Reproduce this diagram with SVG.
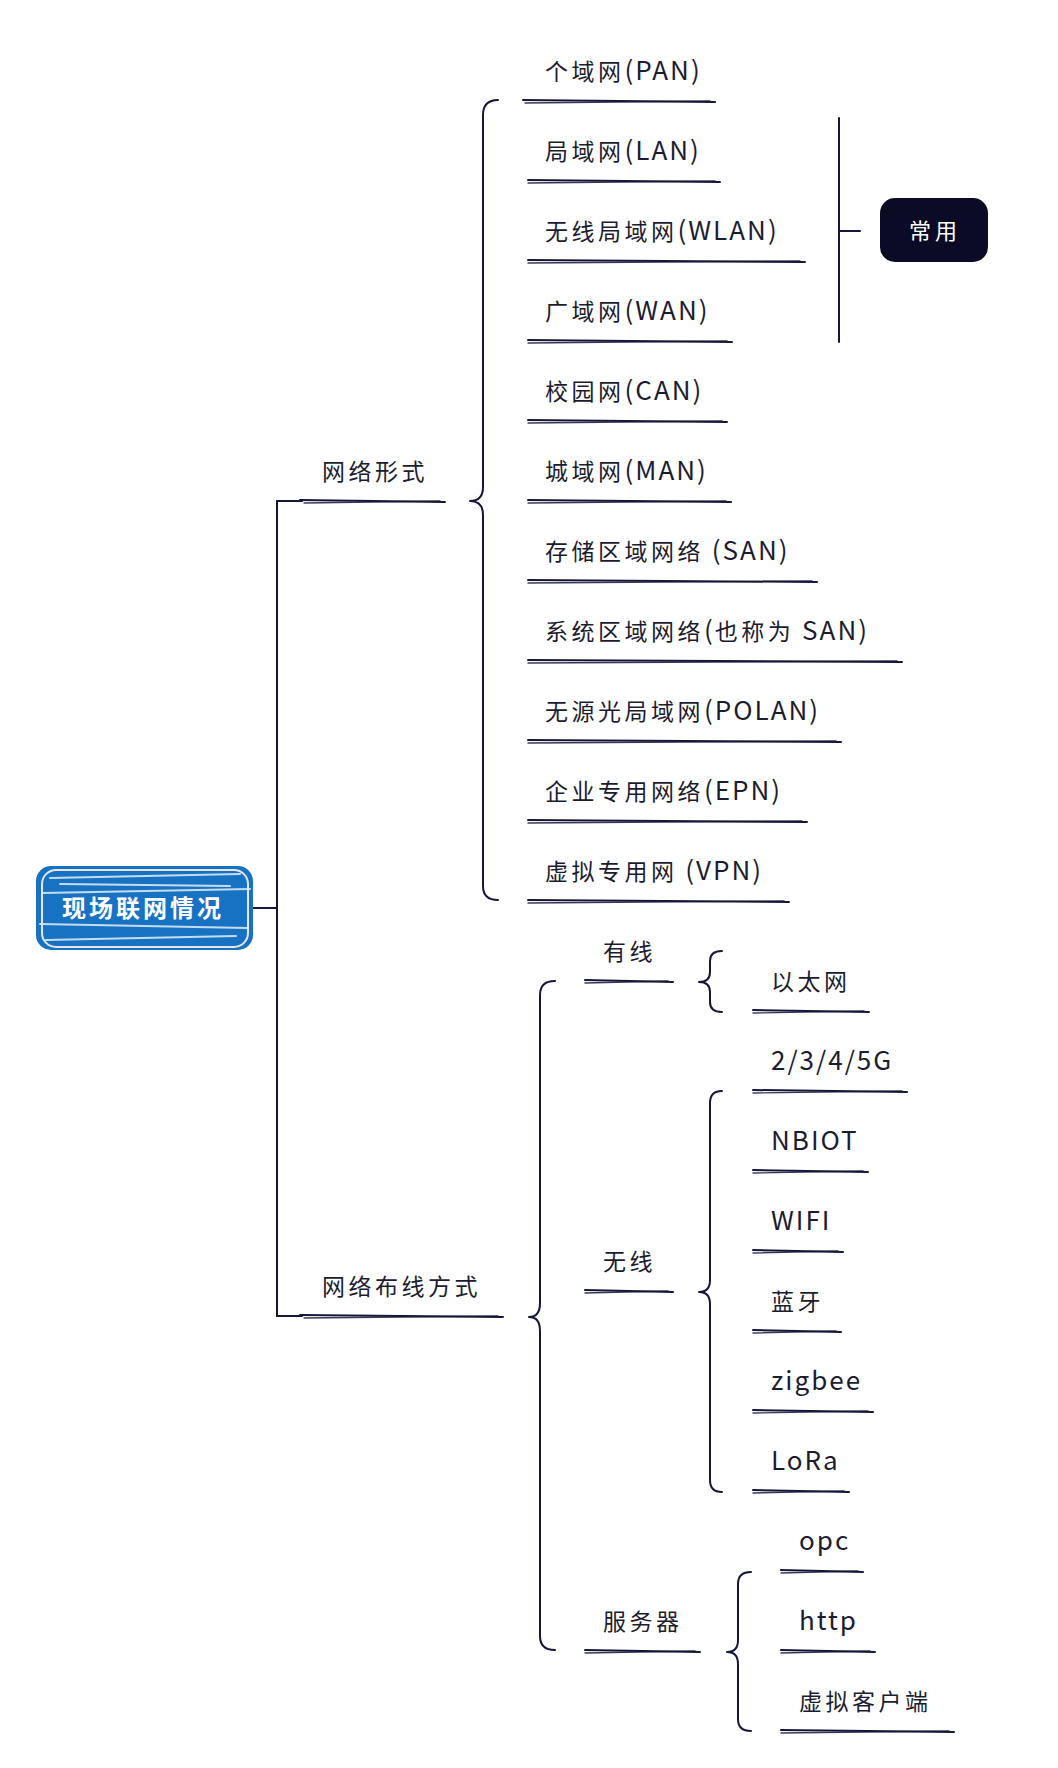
<svg xmlns="http://www.w3.org/2000/svg" width="1058" height="1768" viewBox="0 0 1058 1768">
<style>
.t{font-family:"Noto Sans CJK SC","Noto Sans",sans-serif;font-size:23px;letter-spacing:3.5px;fill:#1c1c30}
.l{font-size:26px;letter-spacing:2px}
.ul{fill:none;stroke:#16163a;stroke-width:2;stroke-linecap:round}
.ul2{fill:none;stroke:#16163a;stroke-width:1.4;stroke-linecap:round;opacity:.85}
.c{fill:none;stroke:#16163a;stroke-width:2;stroke-linecap:round;stroke-linejoin:round}
.wt{font-family:"Noto Sans CJK SC","Noto Sans",sans-serif;fill:#ffffff;text-anchor:middle}
.hs{stroke:#ffffff;stroke-width:2;opacity:.75;stroke-linecap:round}
</style>
<rect width="1058" height="1768" fill="#ffffff"/>
<g id="connectors">
<path class="c" d="M253 908 H277"/>
<path class="c" d="M277 501 V1316"/>
<path class="c" d="M277 501 H302"/>
<path class="c" d="M277 1316 H302"/>
<path class="c" d="M498 100 Q483 100 483 115 L483 487 Q483 501 470 501 Q483 501 483 515 L483 886 Q483 900 498 900"/>
<path class="c" d="M839 118 V342"/>
<path class="c" d="M839 231 H860"/>
<path class="c" d="M555 981 Q540 981 540 995 L540 1303 Q540 1317 529 1317 Q540 1317 540 1331 L540 1636 Q540 1650 555 1650"/>
<path class="c" d="M722 951 Q710 951 710 961 L710 972 Q710 982 699 982 Q710 982 710 992 L710 1002 Q710 1012 722 1012"/>
<path class="c" d="M722 1091 Q710 1091 710 1103 L710 1280 Q710 1292 699 1292 Q710 1292 710 1304 L710 1480 Q710 1492 722 1492"/>
<path class="c" d="M751 1572 Q738 1572 738 1584 L738 1640 Q738 1652 727 1652 Q738 1652 738 1664 L738 1719 Q738 1731 751 1731"/>
</g>
<g id="root">
<rect x="36" y="866" width="217" height="84" rx="15" fill="#1872c4"/>
<path class="hs" d="M50 878 L240 874 M42 893 L250 889 M40 924 L248 928 M46 940 L236 936 M60 884 L230 886"/>
<rect x="42" y="870" width="206" height="77" rx="14" fill="none" stroke="#e6e6ea" stroke-width="2"/>
<text class="wt" x="143" y="917" font-size="24" font-weight="bold" letter-spacing="3">现场联网情况</text>
</g>
<g id="n-wlxs"><text class="t" x="322" y="480">网络形式</text><path class="ul" d="M300 500 L445 502"/><path class="ul2" d="M304 503 L440 501"/></g>
<g id="n-pan"><text class="t" x="545" y="80">个域网<tspan class="l">(PAN)</tspan></text><path class="ul" d="M523 100 L715 102"/><path class="ul2" d="M525 103 L710 101"/></g>
<g id="n-lan"><text class="t" x="545" y="160">局域网<tspan class="l">(LAN)</tspan></text><path class="ul" d="M528 180 L720 182"/><path class="ul2" d="M528 183 L715 181"/></g>
<g id="n-wlan"><text class="t" x="545" y="240">无线局域网<tspan class="l">(WLAN)</tspan></text><path class="ul" d="M528 260 L805 262"/><path class="ul2" d="M528 263 L800 261"/></g>
<g id="n-wan"><text class="t" x="545" y="320">广域网<tspan class="l">(WAN)</tspan></text><path class="ul" d="M528 340 L732 342"/><path class="ul2" d="M528 343 L727 341"/></g>
<g id="n-can"><text class="t" x="545" y="400">校园网<tspan class="l">(CAN)</tspan></text><path class="ul" d="M528 420 L727 422"/><path class="ul2" d="M528 423 L722 421"/></g>
<g id="n-man"><text class="t" x="545" y="480">城域网<tspan class="l">(MAN)</tspan></text><path class="ul" d="M528 500 L731 502"/><path class="ul2" d="M528 503 L726 501"/></g>
<g id="n-san"><text class="t" x="545" y="560">存储区域网络<tspan class="l"> (SAN)</tspan></text><path class="ul" d="M528 580 L817 582"/><path class="ul2" d="M528 583 L812 581"/></g>
<g id="n-sys"><text class="t" x="545" y="640">系统区域网络<tspan class="l">(</tspan>也称为<tspan class="l"> SAN)</tspan></text><path class="ul" d="M528 660 L902 662"/><path class="ul2" d="M528 663 L897 661"/></g>
<g id="n-polan"><text class="t" x="545" y="720">无源光局域网<tspan class="l">(POLAN)</tspan></text><path class="ul" d="M528 740 L841 742"/><path class="ul2" d="M528 743 L836 741"/></g>
<g id="n-epn"><text class="t" x="545" y="800">企业专用网络<tspan class="l">(EPN)</tspan></text><path class="ul" d="M528 820 L807 822"/><path class="ul2" d="M528 823 L802 821"/></g>
<g id="n-vpn"><text class="t" x="545" y="880">虚拟专用网<tspan class="l"> (VPN)</tspan></text><path class="ul" d="M528 900 L789 902"/><path class="ul2" d="M528 903 L784 901"/></g>
<g id="n-common"><rect x="880" y="198" width="108" height="64" rx="15" fill="#0b0b26"/><text class="wt" x="935" y="239" font-size="22" letter-spacing="4">常用</text></g>
<g id="n-bxfs"><text class="t" x="322" y="1295">网络布线方式</text><path class="ul" d="M300 1315 L503 1317"/><path class="ul2" d="M304 1318 L498 1316"/></g>
<g id="n-yx"><text class="t" x="603" y="960">有线</text><path class="ul" d="M585 980 L673 982"/><path class="ul2" d="M585 983 L668 981"/></g>
<g id="n-wx"><text class="t" x="603" y="1270">无线</text><path class="ul" d="M585 1290 L673 1292"/><path class="ul2" d="M585 1293 L668 1291"/></g>
<g id="n-fwq"><text class="t" x="603" y="1630">服务器</text><path class="ul" d="M585 1650 L700 1652"/><path class="ul2" d="M585 1653 L695 1651"/></g>
<g id="n-ytw"><text class="t" x="771" y="990">以太网</text><path class="ul" d="M753 1010 L869 1012"/><path class="ul2" d="M753 1013 L864 1011"/></g>
<g id="n-5g"><text class="t" x="771" y="1070"><tspan class="l">2/3/4/5G</tspan></text><path class="ul" d="M753 1090 L907 1092"/><path class="ul2" d="M753 1093 L902 1091"/></g>
<g id="n-nbiot"><text class="t" x="771" y="1150"><tspan class="l">NBIOT</tspan></text><path class="ul" d="M753 1170 L868 1172"/><path class="ul2" d="M753 1173 L863 1171"/></g>
<g id="n-wifi"><text class="t" x="771" y="1230"><tspan class="l">WIFI</tspan></text><path class="ul" d="M753 1250 L843 1252"/><path class="ul2" d="M753 1253 L838 1251"/></g>
<g id="n-ly"><text class="t" x="771" y="1310">蓝牙</text><path class="ul" d="M753 1330 L841 1332"/><path class="ul2" d="M753 1333 L836 1331"/></g>
<g id="n-zigbee"><text class="t" x="771" y="1390"><tspan class="l">zigbee</tspan></text><path class="ul" d="M753 1410 L873 1412"/><path class="ul2" d="M753 1413 L868 1411"/></g>
<g id="n-lora"><text class="t" x="771" y="1470"><tspan class="l">LoRa</tspan></text><path class="ul" d="M753 1490 L849 1492"/><path class="ul2" d="M753 1493 L844 1491"/></g>
<g id="n-opc"><text class="t" x="799" y="1550"><tspan class="l">opc</tspan></text><path class="ul" d="M781 1570 L863 1572"/><path class="ul2" d="M781 1573 L858 1571"/></g>
<g id="n-http"><text class="t" x="799" y="1630"><tspan class="l">http</tspan></text><path class="ul" d="M781 1650 L875 1652"/><path class="ul2" d="M781 1653 L870 1651"/></g>
<g id="n-xnkhd"><text class="t" x="799" y="1710">虚拟客户端</text><path class="ul" d="M781 1730 L954 1732"/><path class="ul2" d="M781 1733 L949 1731"/></g>
</svg>
